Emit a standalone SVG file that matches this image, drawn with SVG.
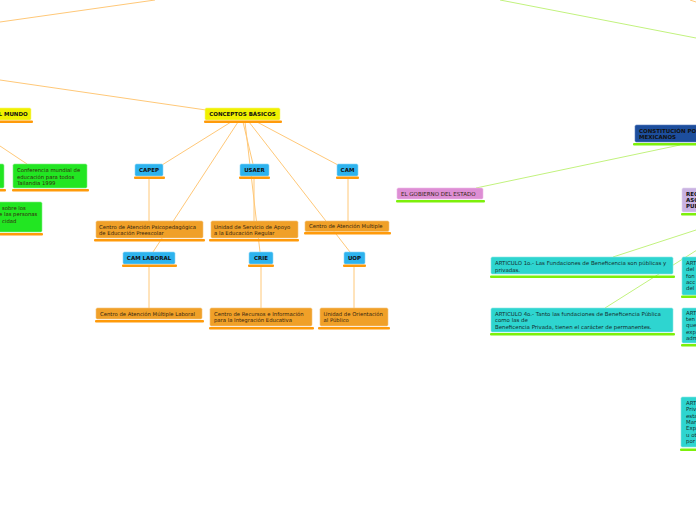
<svg xmlns="http://www.w3.org/2000/svg" width="696" height="520" viewBox="0 0 696 520">
<style>
text{font-family:"DejaVu Sans","Verdana",sans-serif;font-size:5.3px;fill:#34250f}
.b{font-weight:bold;font-size:5.5px;fill:#111}
.c{font-size:5.5px}
.m{text-anchor:middle}
.yel{fill:#f0f000;stroke:#f6f67a;stroke-width:0.6}
.blu{fill:#2db3ee;stroke:#8fd6f7;stroke-width:0.6}
.org{fill:#f0a028;stroke:#f7c478;stroke-width:0.6}
.grn{fill:#22e622;stroke:#88f088;stroke-width:0.6}
.tea{fill:#2ed5d0;stroke:#8ae8e4;stroke-width:0.6}
.pnk{fill:#dd8ed4;stroke:#eebbe8;stroke-width:0.6}
.lav{fill:#c9b2e2;stroke:#e0d4ef;stroke-width:0.6}
.dbl{fill:#1d4e9d;stroke:#5a82c0;stroke-width:0.6}
.uo{fill:#ff9a0a}
.ug{fill:#7df00a}
.t{fill:#142f2f;font-size:5.45px}
.co{stroke:#ffc878;stroke-width:1;fill:none}
.cg{stroke:#c2f27e;stroke-width:1;fill:none}
</style>
<g id="connectors">
<line class="co" x1="0" y1="22" x2="155" y2="0"/>
<line class="co" x1="0" y1="80" x2="206" y2="110"/>
<line class="co" x1="0" y1="146" x2="27" y2="164"/>
<line class="co" x1="690" y1="0" x2="696" y2="2"/>
<line class="co" x1="231" y1="122" x2="162" y2="165"/>
<line class="co" x1="238" y1="122" x2="153" y2="252"/>
<line class="co" x1="243" y1="122" x2="253" y2="164"/>
<line class="co" x1="245" y1="122" x2="260" y2="252"/>
<line class="co" x1="257" y1="122" x2="338" y2="165"/>
<line class="co" x1="249" y1="122" x2="350" y2="252"/>
<line class="co" x1="149" y1="178" x2="149" y2="221"/>
<line class="co" x1="254" y1="178" x2="254" y2="221"/>
<line class="co" x1="348" y1="178" x2="348" y2="221"/>
<line class="co" x1="149" y1="266" x2="149" y2="308"/>
<line class="co" x1="261" y1="266" x2="261" y2="308"/>
<line class="co" x1="354" y1="266" x2="354" y2="308"/>
<line class="cg" x1="500" y1="0" x2="696" y2="38"/>
<line class="cg" x1="476" y1="188" x2="680" y2="145"/>
<line class="cg" x1="613" y1="257" x2="696" y2="230"/>
<line class="cg" x1="605" y1="308" x2="697" y2="250"/>
</g>
<g id="n-mundo">
<rect class="yel" x="-10" y="108" width="41" height="12" rx="1.5"/>
<rect class="uo" x="-10" y="120.5" width="43" height="2.5" rx="1"/>
<text class="b" x="-1.5" y="116">L MUNDO</text>
</g>
<g id="n-conceptos">
<rect class="yel" x="205" y="108" width="75" height="12" rx="1.5"/>
<rect class="uo" x="204" y="120.5" width="78" height="2.5" rx="1"/>
<text class="b m" x="242.5" y="116">CONCEPTOS BÁSICOS</text>
</g>
<g id="n-capep">
<rect class="blu" x="135" y="164" width="28" height="12" rx="1.5"/>
<rect class="uo" x="134" y="176.5" width="31" height="2.5" rx="1"/>
<text class="b m" x="149" y="172">CAPEP</text>
</g>
<g id="n-usaer">
<rect class="blu" x="240" y="164" width="29" height="12" rx="1.5"/>
<rect class="uo" x="239" y="176.5" width="31" height="2.5" rx="1"/>
<text class="b m" x="254.5" y="172">USAER</text>
</g>
<g id="n-cam">
<rect class="blu" x="337" y="164" width="21" height="12" rx="1.5"/>
<rect class="uo" x="336" y="176.5" width="23" height="2.5" rx="1"/>
<text class="b m" x="347.5" y="172">CAM</text>
</g>
<g id="n-camlaboral">
<rect class="blu" x="123" y="252" width="52" height="12" rx="1.5"/>
<rect class="uo" x="122" y="264.5" width="55" height="2.5" rx="1"/>
<text class="b m" x="149" y="260">CAM LABORAL</text>
</g>
<g id="n-crie">
<rect class="blu" x="249" y="252" width="24" height="12" rx="1.5"/>
<rect class="uo" x="248" y="264.5" width="26" height="2.5" rx="1"/>
<text class="b m" x="261" y="260">CRIE</text>
</g>
<g id="n-uop">
<rect class="blu" x="344" y="252" width="21" height="12" rx="1.5"/>
<rect class="uo" x="343" y="264.5" width="23" height="2.5" rx="1"/>
<text class="b m" x="354.5" y="260">UOP</text>
</g>
<g id="n-capep-d">
<rect class="org" x="96" y="221" width="107" height="17" rx="1.5"/>
<rect class="uo" x="94" y="239" width="111" height="2.5" rx="1"/>
<text x="99" y="228.5">Centro de Atención Psicopedagógica</text>
<text x="99" y="234.5">de Educación Preescolar</text>
</g>
<g id="n-usaer-d">
<rect class="org" x="211" y="221" width="87" height="17" rx="1.5"/>
<rect class="uo" x="209" y="239" width="90" height="2.5" rx="1"/>
<text x="214" y="228.5">Unidad de Servicio de Apoyo</text>
<text x="214" y="234.5">a la Educación  Regular</text>
</g>
<g id="n-cam-d">
<rect class="org" x="305" y="221" width="84" height="10.5" rx="1.5"/>
<rect class="uo" x="304" y="232" width="87" height="2.5" rx="1"/>
<text x="309" y="228">Centro de Atención Multiple</text>
</g>
<g id="n-camlaboral-d">
<rect class="org" x="96" y="308" width="106" height="11" rx="1.5"/>
<rect class="uo" x="95" y="320" width="109" height="2.5" rx="1"/>
<text x="100" y="315.5">Centro de Atención Múltiple Laboral</text>
</g>
<g id="n-crie-d">
<rect class="org" x="210" y="308" width="102" height="18" rx="1.5"/>
<rect class="uo" x="209" y="327" width="105" height="2.5" rx="1"/>
<text x="214" y="315.5">Centro de Recursos e Información</text>
<text x="214" y="322">para la Integración Educativa</text>
</g>
<g id="n-uop-d">
<rect class="org" x="320" y="308" width="68" height="18" rx="1.5"/>
<rect class="uo" x="318" y="327" width="72" height="2.5" rx="1"/>
<text x="323.5" y="315.5">Unidad de Orientación</text>
<text x="323.5" y="322">al Público</text>
</g>
<g id="n-green1">
<rect class="grn" x="-20" y="164" width="24" height="24" rx="1.5"/>
<rect class="uo" x="-20" y="189" width="26" height="2.5" rx="1"/>
</g>
<g id="n-conferencia">
<rect class="grn" x="13" y="164" width="74" height="24" rx="1.5"/>
<rect class="uo" x="12" y="189" width="77" height="2.5" rx="1"/>
<text x="17" y="172.3">Conferencia mundial de</text>
<text x="17" y="178.6">educación para todos</text>
<text x="17" y="184.9">Tailandia 1999</text>
</g>
<g id="n-green3">
<rect class="grn" x="-20" y="202" width="62" height="30" rx="1.5"/>
<rect class="uo" x="-20" y="233" width="63" height="2.5" rx="1"/>
<text x="2" y="210">sobre los</text>
<text x="-1" y="216.3">e las personas</text>
<text x="2" y="222.6">cidad</text>
</g>
<g id="n-gobierno">
<rect class="pnk" x="397" y="188" width="86" height="11" rx="1.5"/>
<rect class="ug" x="396" y="200" width="89" height="2.5" rx="1"/>
<text class="c" x="401" y="195.7">EL GOBIERNO DEL ESTADO</text>
</g>
<g id="n-constitucion">
<rect class="dbl" x="635" y="125" width="70" height="17" rx="1.5"/>
<rect class="ug" x="633" y="143" width="70" height="2.5" rx="1"/>
<text class="b" x="639" y="132.5">CONSTITUCIÓN PO</text>
<text class="b" x="639" y="138.5">MEXICANOS</text>
</g>
<g id="n-reglamento">
<rect class="lav" x="682" y="188" width="30" height="24" rx="1.5"/>
<rect class="ug" x="681" y="213" width="30" height="2.5" rx="1"/>
<text class="b" x="686" y="196">REC</text>
<text class="b" x="686" y="202">ASC</text>
<text class="b" x="686" y="208">PUB</text>
</g>
<g id="n-art1">
<rect class="tea" x="491" y="257" width="182" height="17" rx="1.5"/>
<rect class="ug" x="490" y="275.5" width="185" height="2.5" rx="1"/>
<text class="t" x="495" y="265">ARTICULO 1o.- Las Fundaciones de Beneficencia son públicas y</text>
<text class="t" x="495" y="271.5">privadas.</text>
</g>
<g id="n-art4">
<rect class="tea" x="491" y="308" width="182" height="24" rx="1.5"/>
<rect class="ug" x="490" y="333" width="185" height="2.5" rx="1"/>
<text class="t" x="495" y="316">ARTICULO 4o.- Tanto las fundaciones de Beneficencia Pública</text>
<text class="t" x="495" y="322.3">como las de</text>
<text class="t" x="495" y="328.6">Beneficencia Privada, tienen el carácter de permanentes.</text>
</g>
<g id="n-r1">
<rect class="tea" x="682" y="257" width="30" height="38" rx="1.5"/>
<rect class="ug" x="681" y="295.5" width="30" height="2.5" rx="1"/>
<text class="t" x="686" y="265">ART</text>
<text class="t" x="686" y="271.2">del</text>
<text class="t" x="686" y="277.5">fon</text>
<text class="t" x="686" y="283.8">acc</text>
<text class="t" x="686" y="290.1">del</text>
</g>
<g id="n-r2">
<rect class="tea" x="682" y="308" width="30" height="35" rx="1.5"/>
<rect class="ug" x="681" y="344" width="30" height="2.5" rx="1"/>
<text class="t" x="686" y="314.5">ART</text>
<text class="t" x="686" y="320.9">ten</text>
<text class="t" x="686" y="327.3">que</text>
<text class="t" x="686" y="333.7">exp</text>
<text class="t" x="686" y="340.1">adm</text>
</g>
<g id="n-r3">
<rect class="tea" x="681" y="397" width="30" height="50" rx="1.5"/>
<rect class="ug" x="680" y="448.5" width="30" height="2.5" rx="1"/>
<text class="t" x="686" y="405">ART</text>
<text class="t" x="686" y="411.3">Priv</text>
<text class="t" x="686" y="417.6">esta</text>
<text class="t" x="686" y="423.9">Man</text>
<text class="t" x="686" y="430.2">Exp</text>
<text class="t" x="686" y="436.5">u ot</text>
<text class="t" x="686" y="442.8">por</text>
</g>
</svg>
